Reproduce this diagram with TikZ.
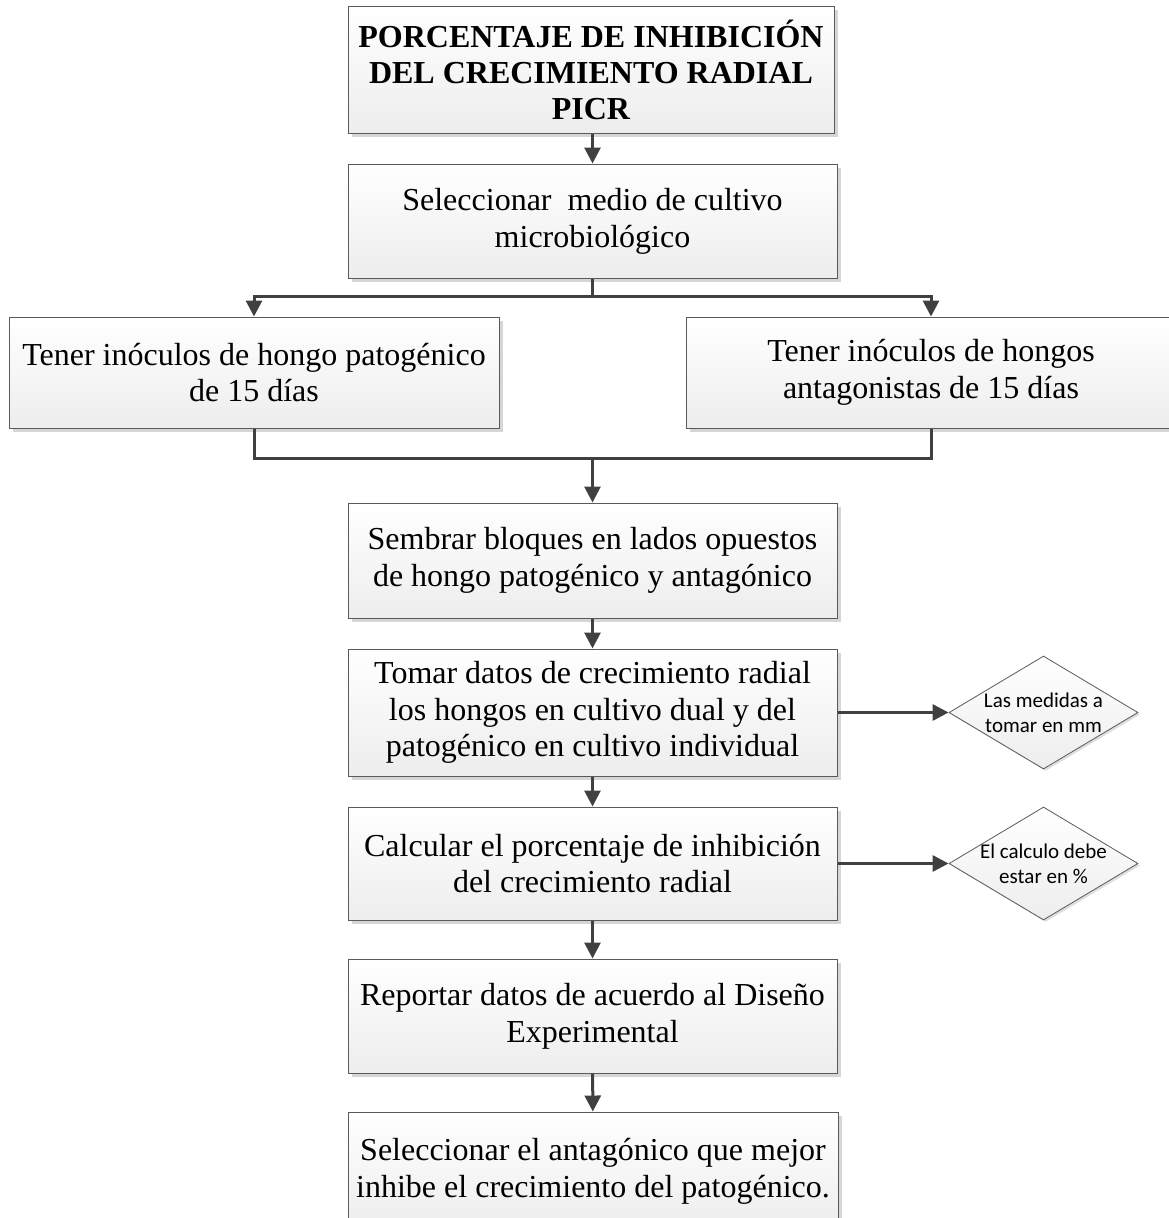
\documentclass[tikz,border=0pt]{standalone}
\usepackage{fontspec}
\setmainfont{Liberation Serif}
\newfontfamily\diafont{Carlito}
\usetikzlibrary{arrows.meta,shapes.geometric,shadows}

\definecolor{boxline}{HTML}{5A5A5A}
\definecolor{boxfill}{HTML}{EDEDED}
\definecolor{shadowc}{HTML}{D6D6D6}
\definecolor{connc}{HTML}{404040}

\tikzset{
  proc/.style={draw=boxline, line width=1pt, top color=white, bottom color=boxfill,
    drop shadow={shadow xshift=4pt, shadow yshift=-4pt, fill=shadowc, opacity=1},
    align=center, inner sep=0pt,
    font=\fontsize{32}{36.8}\selectfont},
  titlebox/.style={proc, font=\bfseries\fontsize{32}{36}\selectfont},
  note/.style={shape=diamond, draw=boxline, line width=0.8pt, top color=white, bottom color=boxfill,
    drop shadow={shadow xshift=2pt, shadow yshift=-2pt, fill=shadowc, opacity=0.8},
    inner sep=0pt, minimum width=189pt, minimum height=113pt},
  notetext/.style={font=\diafont\fontsize{21}{25}\selectfont, align=center},
  wire/.style={draw=connc, line width=3pt},
  conn/.style={wire, -{Triangle[length=16pt,width=16pt]}},
}

\begin{document}
\begin{tikzpicture}[x=1pt,y=-1pt]
\useasboundingbox (0,0) rectangle (1169,1218);

% process boxes
\node[titlebox, minimum width=486pt, minimum height=127pt] (title) at (591,69.5)
  {PORCENTAJE DE INHIBICIÓN\\DEL CRECIMIENTO RADIAL\\PICR};
\node[proc, minimum width=489pt, minimum height=114pt] (medio) at (592.5,221)
  {Seleccionar\ \ medio de cultivo\\microbiológico};
\node[proc, minimum width=490pt, minimum height=111pt] (pato) at (254,372.5)
  {Tener inóculos de hongo patogénico\\de 15 días};
\node[proc, minimum width=490pt, minimum height=111pt] (anta) at (931,372.5)
  {Tener inóculos de hongos\\antagonistas de 15 días};
\node[proc, minimum width=489pt, minimum height=115pt] (sembrar) at (592.5,560.5)
  {Sembrar bloques en lados opuestos\\de hongo patogénico y antagónico};
\node[proc, minimum width=489pt, minimum height=127pt] (tomar) at (592.5,712.5)
  {Tomar datos de crecimiento radial\\los hongos en cultivo dual y del\\patogénico en cultivo individual};
\node[proc, minimum width=489pt, minimum height=113pt] (calc) at (592.5,863.5)
  {Calcular el porcentaje de inhibición\\del crecimiento radial};
\node[proc, minimum width=489pt, minimum height=114pt] (rep) at (592.5,1016)
  {Reportar datos de acuerdo al Diseño\\Experimental};
\node[proc, minimum width=490pt, minimum height=118pt] (final) at (593,1171)
  {Seleccionar el antagónico que mejor\\inhibe el crecimiento del patogénico.};

% side notes
\node[note, label={[notetext]center:Las medidas a\\tomar en mm}] (mm) at (1043.5,712.5) {};
\node[note, label={[notetext]center:El calculo debe\\estar en \%}] (pct) at (1043.5,863.5) {};

% connectors
\coordinate (split) at (592.5,296);
\coordinate (merge) at (592.5,458);

\draw[conn] (medio.north |- title.south) -- (medio.north);
\draw[wire] (medio.south) -- (split);
\draw[conn] (split) -| (pato.north);
\draw[conn] (split) -| (anta.north);
\draw[wire] (pato.south) |- (merge);
\draw[wire] (anta.south) |- (merge);
\draw[conn] (merge) -- (sembrar.north);
\draw[conn] (sembrar) -- (tomar);
\draw[conn] (tomar) -- (calc);
\draw[conn] (calc) -- (rep);
\draw[conn] (rep) -- (final);
\draw[conn] (tomar.east) -- (mm.west);
\draw[conn] (calc.east) -- (pct.west);
\end{tikzpicture}
\end{document}
